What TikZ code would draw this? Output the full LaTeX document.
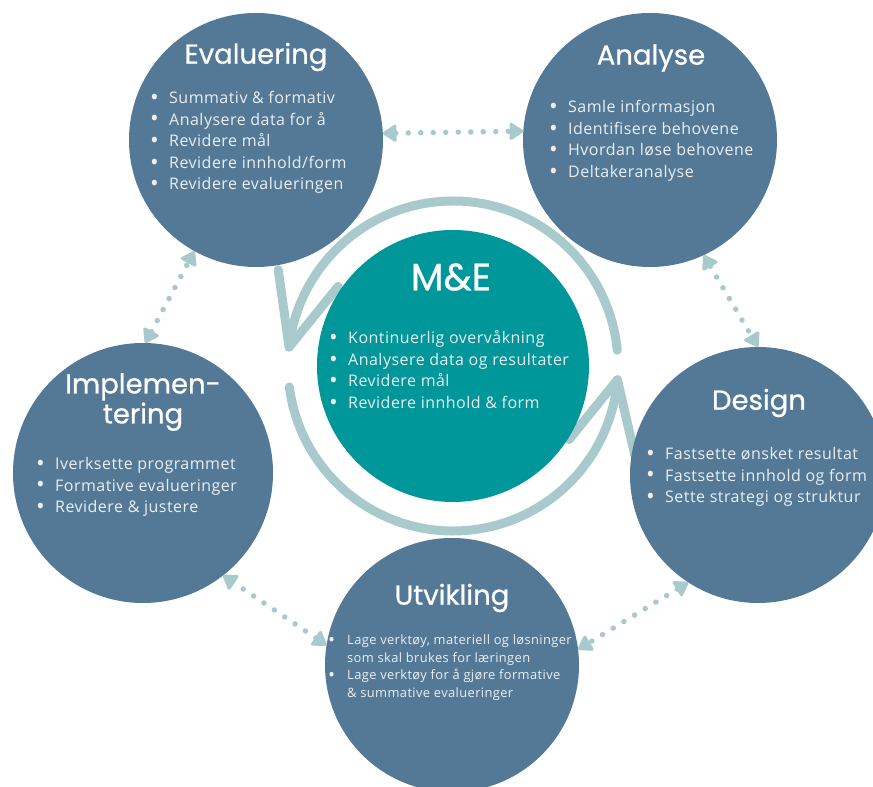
\documentclass[tikz,border=0pt]{standalone}
\usepackage{fontspec}
\usepackage{graphicx}
\setmainfont{Open Sans}[LetterSpace=3]
\newfontfamily\headfont{Poppins}[FakeBold=0.7]
\usetikzlibrary{arrows.meta,calc}

\definecolor{disc}{RGB}{83,121,151}
\definecolor{core}{RGB}{0,151,155}
\definecolor{ringc}{RGB}{168,202,204}
\definecolor{soft}{RGB}{234,239,243}

% list bullet with a fixed-width column
\newcommand\bul{\makebox[19pt][l]{\raisebox{-1.8pt}{\scalebox{1.45}{•}}}}

\begin{document}
\begin{tikzpicture}[x=1pt,y=1pt,
  phase/.style={circle, fill=disc, inner sep=0pt, outer sep=0pt, minimum size=#1},
  hubdisc/.style={circle, fill=core, inner sep=0pt, outer sep=0pt, minimum size=#1},
  head/.style={text=white, font=\headfont\fontsize{27.5}{30}\selectfont, inner sep=0pt, align=center},
  body/.style={text=soft, font=\fontsize{16}{21.6}\selectfont, align=left, anchor=west, inner sep=0pt},
  smallbody/.style={body, font=\fontsize{12.9}{17.6}\selectfont},
  ringline/.style={draw=ringc, line width=9pt, line cap=round, line join=round},
  link/.style={draw=ringc, line width=5.5pt, line cap=round, dash pattern=on 0pt off 12.5pt,
    {Triangle[round,length=15pt,width=19pt,line width=3pt]}-{Triangle[round,length=15pt,width=19pt,line width=3pt]}}
]
\path[use as bounding box] (0,0) rectangle (873,787);
\clip (0,0) rectangle (873,787);
\fill[white] (0,0) rectangle (873,787);

% cycle ring around the centre
\coordinate (hub) at (453,421);
\draw[ringline] ($(hub)+(5.5:165)$) arc[start angle=5.5, end angle=173.4, radius=165];
\coordinate (tipA) at ($(hub)+(173.4:165)$);
\draw[ringline] ($(tipA)+(98:78)$) -- (tipA) -- ++(51:78);
\draw[ringline] ($(hub)+(187.3:165)$) arc[start angle=187.3, end angle=355.2, radius=165];
\coordinate (tipB) at ($(hub)+(355.2:165)$);
\draw[ringline] ($(tipB)+(231:77)$) -- (tipB) -- ++(283:78);

% phase discs
\node[phase=254pt] (eval) at (256,647) {};
\node[phase=254pt] (ana) at (650,647) {};
\node[phase=260pt] (impl) at (143,314) {};
\node[phase=256pt] (design) at (758,312) {};
\node[phase=254pt] (utv) at (452,122) {};
\node[hubdisc=272pt] (me) at (hub) {};

% dotted links between phases
\draw[link] (eval.3.2) -- (ana.176.8);
\draw[link] (ana.295) -- (design.90);
\draw[link] (design.237.8) -- (utv.7.5);
\draw[link] (utv.171.5) -- (impl.308);
\draw[link] (impl.89) -- (eval.241);

% titles
\node[head] (evalT) at (256,730) {Evaluering};
\node[head] (anaT) at (651,729) {Analyse};
\node[head, font=\headfont\fontsize{38}{42}\selectfont] (meT) at (451,510) {M\&E};
\node[head] (implT) at (143,385) {Implemen-\\tering};
\node[head] (designT) at (759,384) {Design};
\node[head] (utvT) at (452,189) {Utvikling};

% bullet lists
\node[body] (evalB) at (150,644.5) {\bul Summativ \& formativ\\\bul Analysere data for å\\\bul Revidere mål\\\bul Revidere innhold/form\\\bul Revidere evalueringen};
\node[body] (anaB) at (549,646) {\bul Samle informasjon\\\bul Identifisere behovene\\\bul Hvordan løse behovene\\\bul Deltakeranalyse};
\node[body] (meB) at (329,416.5) {\bul Kontinuerlig overvåkning\\\bul Analysere data og resultater\\\bul Revidere mål\\\bul Revidere innhold \& form};
\node[body] (implB) at (36,300) {\bul Iverksette programmet\\\bul Formative evalueringer\\\bul Revidere \& justere};
\node[body] (designB) at (646,310) {\bul Fastsette ønsket resultat\\\bul Fastsette innhold og form\\\bul Sette strategi og struktur};
\node[smallbody] (utvB) at (328,119.5) {\bul Lage verktøy, materiell og løsninger\\\hspace*{19pt}som skal brukes for læringen\\\bul Lage verktøy for å gjøre formative\\\hspace*{19pt}\& summative evalueringer};
\end{tikzpicture}
\end{document}
